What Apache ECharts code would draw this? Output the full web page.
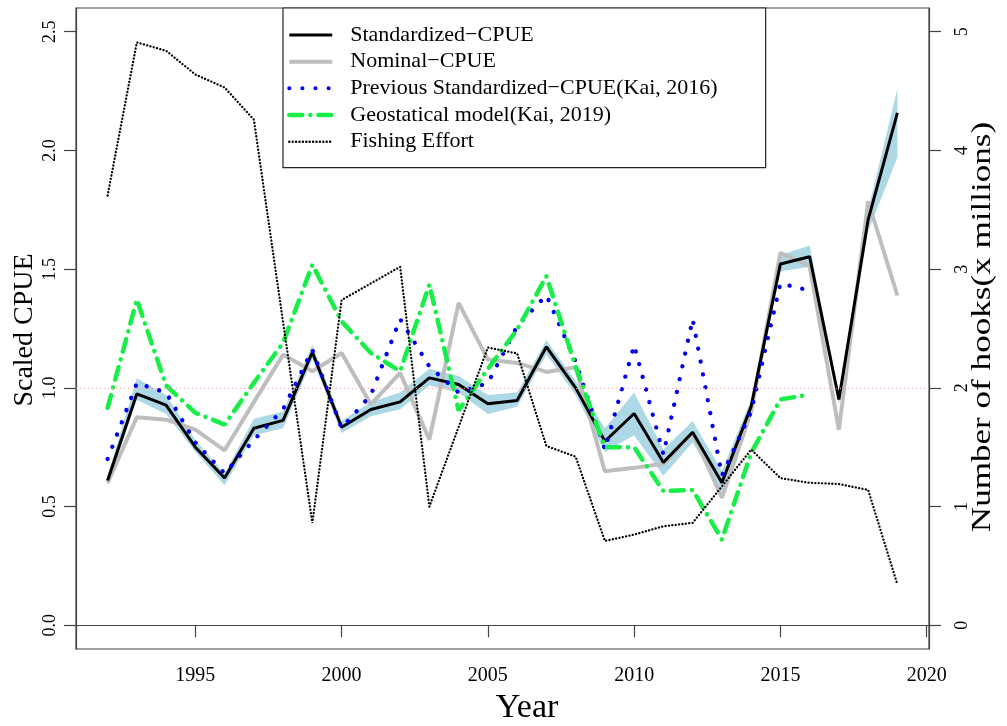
<!DOCTYPE html>
<html><head><meta charset="utf-8">
<script src="https://cdn.jsdelivr.net/npm/echarts@6/dist/echarts.min.js"></script>
<style>html,body{margin:0;padding:0;background:#fff}#c{width:1007px;height:726px}</style>
</head><body><div id="c"></div>
<script>
// ---- data ----
const years = [1992,1993,1994,1995,1996,1997,1998,1999,2000,2001,2002,2003,2004,2005,2006,2007,2008,2009,2010,2011,2012,2013,2014,2015,2016,2017,2018,2019];
const stdCPUE   = [0.61,0.975,0.927,0.75,0.62,0.83,0.863,1.15,0.834,0.909,0.941,1.042,1.014,0.933,0.947,1.173,1.0,0.775,0.892,0.686,0.813,0.60,0.922,1.522,1.552,0.951,1.709,2.158];
const stdLower  = [0.59,0.95,0.89,0.73,0.59,0.80,0.83,1.12,0.81,0.88,0.91,1.01,0.98,0.89,0.92,1.14,0.97,0.73,0.80,0.63,0.77,0.56,0.89,1.49,1.51,0.93,1.66,1.97];
const stdUpper  = [0.63,1.04,0.97,0.78,0.64,0.87,0.90,1.18,0.86,0.94,0.98,1.08,1.05,0.97,0.98,1.20,1.03,0.83,0.98,0.74,0.86,0.65,0.95,1.56,1.60,0.97,1.75,2.26];
const nominalCPUE = [0.60,0.876,0.866,0.824,0.737,0.94,1.14,1.07,1.147,0.93,1.063,0.782,1.358,1.119,1.105,1.067,1.087,0.649,0.663,0.68,0.81,0.537,0.90,1.569,1.512,0.824,1.786,1.389];
const prevYears = [1992,1993,1994,1995,1996,1997,1998,1999,2000,2001,2002,2003,2004,2005,2006,2007,2008,2009,2010,2011,2012,2013,2014,2015,2016];
const prevCPUE  = [0.70,1.02,0.98,0.77,0.64,0.78,0.91,1.16,0.83,0.97,1.29,1.09,0.98,1.02,1.26,1.39,1.11,0.74,1.18,0.72,1.29,0.63,0.90,1.44,1.41];
const geoCPUE   = [0.916,1.372,1.01,0.895,0.845,1.021,1.19,1.519,1.28,1.147,1.07,1.435,0.905,1.08,1.245,1.47,1.09,0.75,0.75,0.565,0.57,0.361,0.726,0.951,0.972];
const effort    = [3.62,4.91,4.84,4.64,4.53,4.26,2.55,0.86,2.74,2.88,3.02,1.0,1.67,2.34,2.29,1.51,1.42,0.71,0.764,0.834,0.863,1.17,1.48,1.24,1.20,1.19,1.14,0.343];
const xTicks = [1995,2000,2005,2010,2015,2020];
const yLeftTicks = [0,0.5,1,1.5,2,2.5];
const yRightTicks = [0,1,2,3,4,5];
const names = ['Standardized\u2212CPUE','Nominal\u2212CPUE','Previous Standardized\u2212CPUE(Kai, 2016)','Geostatical model(Kai, 2019)','Fishing Effort'];

const pair = (xs, ys) => xs.map((x, i) => [x, ys[i]]);
const FONT = 'Liberation Serif, Times New Roman, serif';
const AX = '#444';
const HIDE = { color: 'rgba(0,0,0,0)', borderColor: 'rgba(0,0,0,0)', borderWidth: 0, opacity: 0 };

const chart = echarts.init(document.getElementById('c'));
chart.setOption({
  animation: false,
  backgroundColor: '#fff',
  grid: { left: 76, right: 78, top: 8, bottom: 77, show: true, borderColor: AX, borderWidth: 1.2, backgroundColor: 'transparent' },
  xAxis: {
    type: 'value', min: 1990.92, max: 2020.08,
    axisLine: { show: true, lineStyle: { color: AX, width: 1.2 } },
    axisTick: { show: true, customValues: xTicks, length: 12, lineStyle: { color: AX, width: 1.2 } },
    axisLabel: { customValues: xTicks, fontFamily: FONT, fontSize: 20, color: '#000', margin: 17,
      formatter: v => String(Math.round(v)) },
    splitLine: { show: false }
  },
  yAxis: [{
    type: 'value', min: -0.1, max: 2.6,
    axisLine: { show: true, lineStyle: { color: AX, width: 1.2 } },
    axisTick: { show: true, customValues: yLeftTicks, length: 12, lineStyle: { color: AX, width: 1.2 } },
    axisLabel: { customValues: yLeftTicks, rotate: 90, fontFamily: FONT, fontSize: 18, color: '#000', margin: 17,
      formatter: v => Number(v).toFixed(1) },
    splitLine: { show: false }
  }, {
    type: 'value', min: -0.2, max: 5.2, position: 'right',
    axisLine: { show: true, lineStyle: { color: AX, width: 1.2 } },
    axisTick: { show: true, customValues: yRightTicks, length: 12, lineStyle: { color: AX, width: 1.2 } },
    axisLabel: { customValues: yRightTicks, rotate: 90, fontFamily: FONT, fontSize: 18, color: '#000', margin: 24,
      formatter: v => String(Math.round(v)) },
    splitLine: { show: false }
  }],
  legend: {
    orient: 'vertical', left: 283, top: 8, padding: [15, 48, 14, 4],
    itemWidth: 43, itemHeight: 14, itemGap: 2.67,
    borderColor: '#222', borderWidth: 1.2, backgroundColor: '#fff', z: 20,
    textStyle: { fontFamily: FONT, fontSize: 22, color: '#000', lineHeight: 24, padding: [0, 0, 0, 13] },
    data: [
      { name: names[0], lineStyle: { width: 3 }, itemStyle: HIDE },
      { name: names[1], lineStyle: { width: 4 }, itemStyle: HIDE },
      { name: names[2], lineStyle: { width: 4 }, itemStyle: HIDE },
      { name: names[3], lineStyle: { width: 4.5 }, itemStyle: HIDE },
      { name: names[4], lineStyle: { width: 2.4 }, itemStyle: HIDE }
    ]
  },
  graphic: [
    { type: 'text', x: 25, y: 330, rotation: Math.PI / 2,
      style: { text: 'Scaled CPUE', font: '28px ' + FONT, fill: '#000', align: 'center', verticalAlign: 'middle' } },
    { type: 'text', x: 983, y: 327, rotation: Math.PI / 2, scaleX: 1.3,
      style: { text: 'Number of hooks(x millions)', font: '27px ' + FONT, fill: '#000', align: 'center', verticalAlign: 'middle' } },
    { type: 'text', x: 527, y: 708,
      style: { text: 'Year', font: '34px ' + FONT, fill: '#000', align: 'center', verticalAlign: 'middle' } }
  ],
  series: [
    {
      type: 'custom', name: 'band', silent: true, z: 1,
      data: [[years[0], stdCPUE[0]]],
      renderItem: (params, api) => {
        const pts = [];
        for (let i = 0; i < years.length; i++) pts.push(api.coord([years[i], stdUpper[i]]));
        for (let i = years.length - 1; i >= 0; i--) pts.push(api.coord([years[i], stdLower[i]]));
        return { type: 'polygon', shape: { points: pts }, style: { fill: '#ADD8E6', stroke: null } };
      }
    },
    {
      type: 'line', name: names[1], data: pair(years, nominalCPUE), symbol: 'none', z: 2,
      lineStyle: { color: '#BEBEBE', width: 4 }, itemStyle: { color: '#BEBEBE' }
    },
    {
      type: 'line', name: names[0], data: pair(years, stdCPUE), symbol: 'none', z: 3,
      lineStyle: { color: '#000', width: 3 }, itemStyle: { color: '#000' },
      markLine: { silent: true, symbol: 'none', label: { show: false },
        lineStyle: { color: '#ff9f9f', width: 1, type: [1, 3] }, data: [{ yAxis: 1 }] }
    },
    {
      type: 'line', name: names[2], data: pair(prevYears, prevCPUE), symbol: 'none', z: 4,
      lineStyle: { color: '#0000EE', width: 4.3, type: [0.1, 13], cap: 'round' }, itemStyle: { color: '#0000EE' }
    },
    {
      type: 'line', name: names[3], data: pair(prevYears, geoCPUE), symbol: 'none', z: 4,
      lineStyle: { color: '#18EE48', width: 4.5, type: [13, 8, 0.1, 8], cap: 'round' }, itemStyle: { color: '#18EE48' }
    },
    {
      type: 'line', name: names[4], data: pair(years, effort), yAxisIndex: 1, symbol: 'none', z: 5,
      lineStyle: { color: '#000', width: 2.3, type: [0.1, 3.3], cap: 'round' }, itemStyle: { color: '#000' }
    }
  ]
});
</script></body></html>
